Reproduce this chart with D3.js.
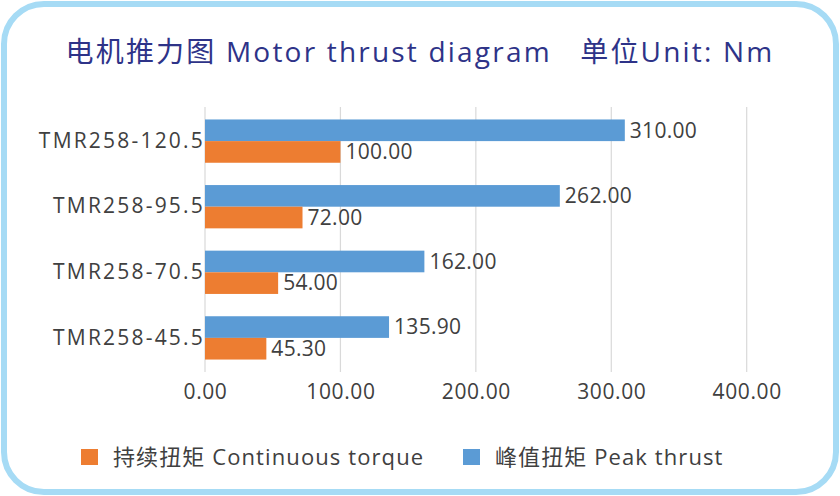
<!DOCTYPE html>
<html>
<head>
<meta charset="utf-8">
<script src="https://cdn.jsdelivr.net/npm/d3@7"></script>
<style>
  body { margin: 0; background: #fff; }
  text { font-family: "Open Sans", "Noto Sans CJK SC", sans-serif; }
</style>
</head>
<body>
<div id="vis"><svg></svg></div>
<script>
// data
var categories = ["TMR258-120.5", "TMR258-95.5", "TMR258-70.5", "TMR258-45.5"];
var peakThrust = [310.00, 262.00, 162.00, 135.90];
var continuousTorque = [100.00, 72.00, 54.00, 45.30];
var xTicks = [0, 100, 200, 300, 400];
var seriesNames = ["持续扭矩 Continuous torque", "峰值扭矩 Peak thrust"];

var W = 840, H = 496;
var svg = d3.select("#vis").select("svg")
    .attr("width", W)
    .attr("height", H);

// rounded frame
svg.append("rect")
    .attr("x", 4).attr("y", 4)
    .attr("width", W - 8).attr("height", H - 8)
    .attr("rx", 40).attr("ry", 40)
    .attr("fill", "#fff")
    .attr("stroke", "#a6dbf5")
    .attr("stroke-width", 6);

// title
svg.append("text")
    .attr("x", 420).attr("y", 62)
    .attr("text-anchor", "middle")
    .attr("fill", "#2e3388")
    .attr("font-size", 28)
    .attr("letter-spacing", 2.2)
    .attr("xml:space", "preserve")
    .text("电机推力图 Motor thrust diagram   单位Unit: Nm");

var margin = {top: 107, left: 205};
var width = 746.7 - 205;
var height = 372 - 107;

var g = svg.append("g")
    .attr("transform", "translate(" + margin.left + "," + margin.top + ")");

var x = d3.scaleLinear()
    .domain([0, 400])
    .range([0, width]);

var y = d3.scaleBand()
    .domain(categories)
    .range([0, height])
    .paddingInner(0.34)
    .paddingOuter(0.19);

var sub = d3.scaleBand()
    .domain(["peak", "cont"])
    .range([0, y.bandwidth()]);

// gridlines
g.selectAll(".grid")
    .data(xTicks)
    .enter().append("line")
    .attr("x1", d => x(d)).attr("x2", d => x(d))
    .attr("y1", 0).attr("y2", height)
    .attr("stroke", "#d9d9d9")
    .attr("stroke-width", 1.2);

// x axis labels
var xAxis = g.append("g")
    .attr("transform", "translate(0," + height + ")")
    .call(d3.axisBottom(x).tickValues(xTicks).tickFormat(d3.format(".2f")).tickSize(0).tickPadding(12));
xAxis.select(".domain").remove();
xAxis.selectAll("text")
    .attr("fill", "#404040")
    .attr("font-size", 21)
    .attr("letter-spacing", 0.6)
    .style("font-family", "'Open Sans', 'Noto Sans CJK SC', sans-serif");

// y axis labels
var yAxis = g.append("g")
    .call(d3.axisLeft(y).tickSize(0).tickPadding(0));
yAxis.select(".domain").remove();
yAxis.selectAll("text")
    .attr("fill", "#404040")
    .attr("font-size", 21)
    .attr("letter-spacing", 2.2)
    .style("font-family", "'Open Sans', 'Noto Sans CJK SC', sans-serif");

var rows = categories.map((c, i) => ({cat: c, peak: peakThrust[i], cont: continuousTorque[i]}));

// peak bars
g.selectAll(".peak")
    .data(rows)
    .enter().append("rect")
    .attr("x", x(0))
    .attr("y", d => y(d.cat) + sub("peak"))
    .attr("width", d => x(d.peak) - x(0))
    .attr("height", sub.bandwidth())
    .attr("fill", "#5b9bd5");

// continuous bars
g.selectAll(".cont")
    .data(rows)
    .enter().append("rect")
    .attr("x", x(0))
    .attr("y", d => y(d.cat) + sub("cont"))
    .attr("width", d => x(d.cont) - x(0))
    .attr("height", sub.bandwidth())
    .attr("fill", "#ed7d31");

// value labels
function labels(key) {
    g.selectAll(".lbl-" + key)
        .data(rows)
        .enter().append("text")
        .attr("x", d => x(d[key]) + 5)
        .attr("y", d => y(d.cat) + sub(key) + sub.bandwidth() / 2)
        .attr("dy", "0.35em")
        .attr("fill", "#404040")
        .attr("font-size", 21)
        .attr("letter-spacing", 0.3)
        .text(d => d3.format(".2f")(d[key]));
}
labels("peak");
labels("cont");

// legend
var legend = [
    {name: seriesNames[0], color: "#ed7d31", x: 81},
    {name: seriesNames[1], color: "#5b9bd5", x: 463}
];
var lg = svg.selectAll(".legend")
    .data(legend)
    .enter().append("g")
    .attr("transform", d => "translate(" + d.x + ",449)");
lg.append("rect")
    .attr("width", 17).attr("height", 16)
    .attr("fill", d => d.color);
lg.append("text")
    .attr("x", 32).attr("y", 8)
    .attr("dy", "0.35em")
    .attr("fill", "#404040")
    .attr("font-size", 22)
    .attr("letter-spacing", 1.1)
    .text(d => d.name);
</script>
</body>
</html>
